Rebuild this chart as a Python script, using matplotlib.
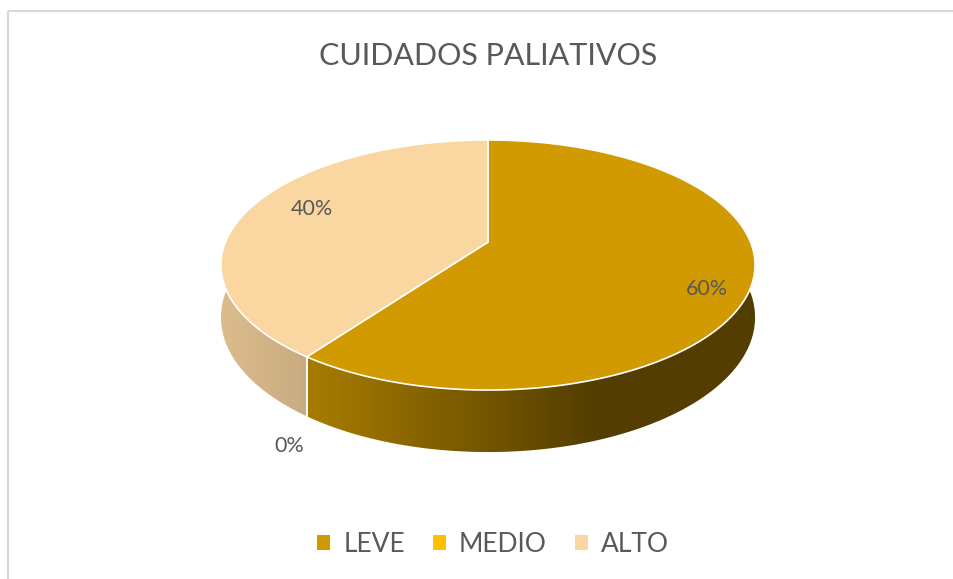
import numpy as np
import matplotlib.pyplot as plt
from matplotlib.colors import to_rgb
from matplotlib.patches import Polygon, Patch, Rectangle

plt.rcParams['font.family'] = ['Lato', 'DejaVu Sans']

# data
categories = ['LEVE', 'MEDIO', 'ALTO']
shares = [60, 0, 40]
colors = ['#D09A00', '#FFC000', '#FAD6A0']
title = 'CUIDADOS PALIATIVOS'
text_gray = '#595959'

# 3D pie geometry in pixel space (perspective projection of a disc)
W, H = 954, 579
cx, cy = 488, 242          # projected centre of the top face
a, b = 262.5, 120.8        # horizontal / vertical scale
k = -0.184                 # perspective factor
depth = 50.6               # wall height


def project(theta, r=1.0, z=0.0):
    # theta measured clockwise from 12 o'clock
    u = r * np.sin(theta)
    v = -r * np.cos(theta)   # +1 = front
    d = 1 + k * v
    return cx + a * u / d, cy + (b * v + depth * z) / d


def shade(u):
    return np.interp(u, [-1, -0.6, 0.4, 1], [0.88, 0.78, 0.40, 0.40])


fig = plt.figure(figsize=(W / 100, H / 100), dpi=100)
ax = fig.add_axes([0, 0, 1, 1])
ax.set_xlim(0, W)
ax.set_ylim(H, 0)
ax.axis('off')

# chart border (cut off at right / bottom)
ax.add_patch(Rectangle((8, 11), W + 20, H + 20, fill=False,
                       edgecolor='#D9D9D9', lw=1.5))

frac = np.array(shares, dtype=float) / sum(shares)
starts = np.concatenate([[0], np.cumsum(frac)[:-1]]) * 2 * np.pi
ends = np.cumsum(frac) * 2 * np.pi

# side walls: horizontal gradient clipped to each slice's visible wall
x_left, x_right = cx - a * 1.02, cx + a * 1.02
xs_grad = np.linspace(x_left, x_right, 600)
u_grad = np.clip((xs_grad - cx) / (a * 1.017), -1, 1)
for s, e, c in zip(starts, ends, colors):
    if e - s <= 0:
        continue
    th = np.linspace(s, e, 400)
    th = th[-np.cos(th) > -0.2]
    if th.size < 2:
        continue
    tx, ty = project(th)
    bx, by = project(th[::-1], z=1)
    wall = Polygon(list(zip(tx, ty)) + list(zip(bx, by)), closed=True,
                   facecolor='none', edgecolor='none')
    ax.add_patch(wall)
    base = np.array(to_rgb(c))
    img = np.clip(base[None, None, :] * shade(u_grad)[None, :, None], 0, 1)
    im = ax.imshow(img, extent=(x_left, x_right, cy + b * 1.5 + depth * 1.5, cy - 10),
                   aspect='auto', interpolation='bilinear', zorder=1)
    im.set_clip_path(wall)

# white seams on the visible wall at slice boundaries
for t in ends[:-1]:
    if -np.cos(t) > 0.18:
        x0, y0 = project(t)
        x1, y1 = project(t, z=1)
        ax.plot([x0, x1], [y0, y1], color='white', lw=1.2, zorder=2)

# top faces
for s, e, c in zip(starts, ends, colors):
    if e - s <= 0:
        continue
    th = np.linspace(s, e, 300)
    xs, ys = project(th)
    pts = [(cx, cy)] + list(zip(xs, ys))
    ax.add_patch(Polygon(pts, closed=True, facecolor=c, edgecolor='white',
                         lw=1.2, joinstyle='round', zorder=3))

# data labels
label_r = [0.80, 1.10, 0.78]
label_z = [0.30, 1.25, -0.10]
label_dx = [10, 4, 10]
for s, e, p, r, z, dx in zip(starts, ends, shares, label_r, label_z, label_dx):
    x, y = project(0.5 * (s + e), r=r, z=z)
    ax.text(x + dx, y, f'{p}%', ha='center', va='center', fontsize=15.5,
            color=text_gray, zorder=4)

ax.text(488, 56, title, ha='center', va='center', fontsize=22, color=text_gray)

handles = [Patch(facecolor=c, edgecolor='none') for c in colors]
ax.legend(handles, categories, loc='center', bbox_to_anchor=(493 / W, 1 - 544 / H),
          ncol=3, frameon=False, fontsize=19, labelcolor=text_gray,
          handlelength=0.5, handleheight=0.5, handletextpad=0.5,
          columnspacing=1.05)

fig.savefig('out.png', dpi=100)
